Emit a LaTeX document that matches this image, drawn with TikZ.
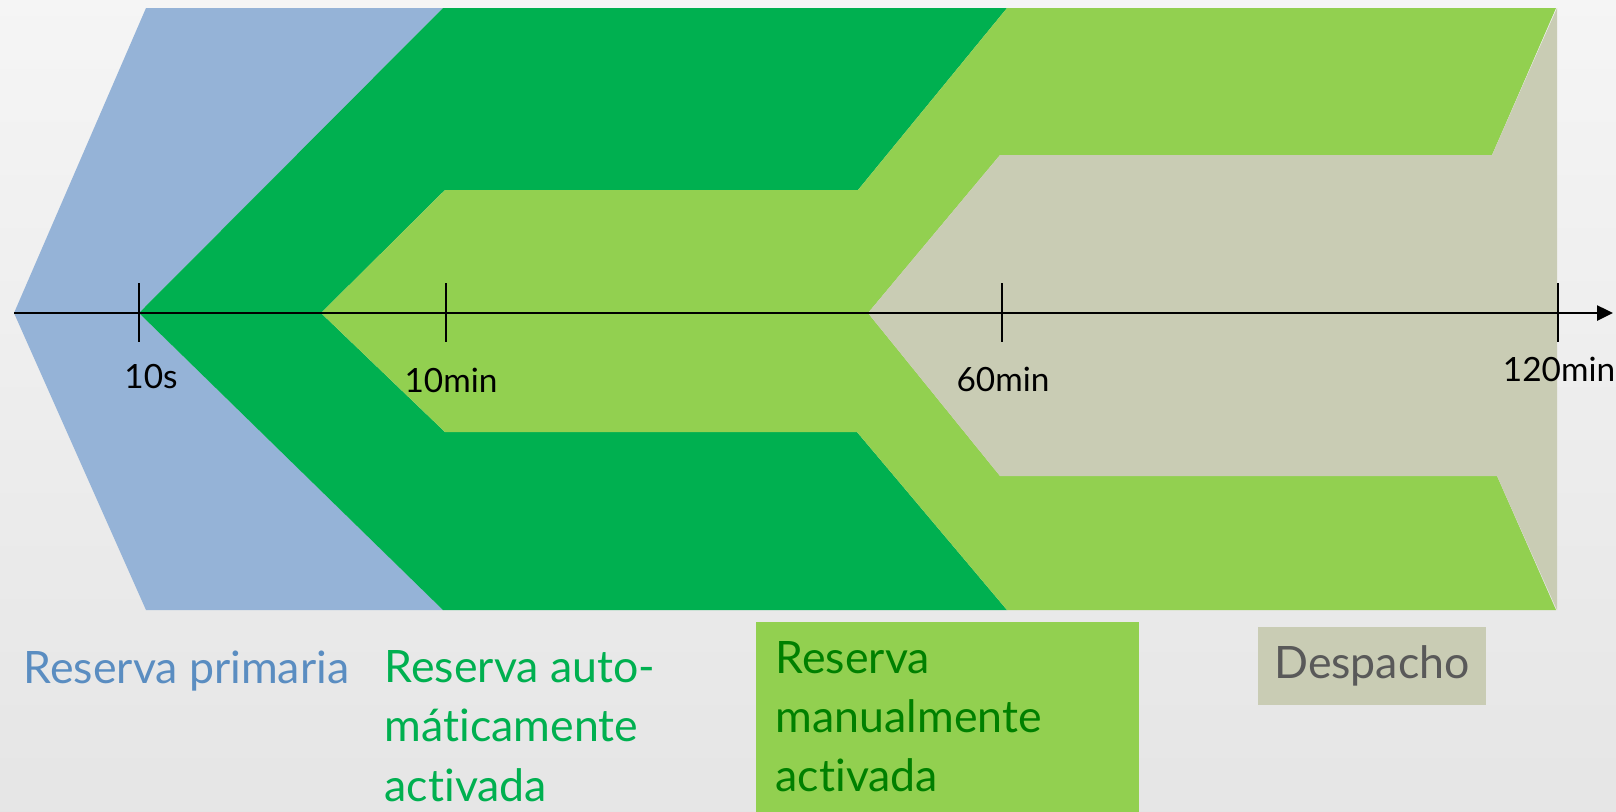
\documentclass[tikz,border=0pt]{standalone}
\usepackage{fontspec}
\setmainfont{Lato}[Ligatures=NoCommon]
\usetikzlibrary{arrows.meta}
\definecolor{primaria}{HTML}{95B3D7}
\definecolor{automatica}{HTML}{00B050}
\definecolor{manual}{HTML}{92D050}
\definecolor{despacho}{HTML}{C9CCB4}
\definecolor{textoprim}{HTML}{5A8DC1}
\definecolor{textoman}{HTML}{008000}
\definecolor{textodesp}{HTML}{595959}

\begin{document}
\begin{tikzpicture}[x=0.01cm,y=-0.01cm]
\tikzstyle{marca}=[line width=0.6pt]
\tikzstyle{etiq}=[font=\fontsize{9.5}{11}\selectfont, inner sep=0pt]
\tikzstyle{leyenda}=[font=\fontsize{12.7}{16.8}\selectfont, align=left, inner sep=0pt, anchor=base west]
\tikzstyle{caja}=[font=\fontsize{12.7}{16.8}\selectfont, align=left, inner ysep=0pt]
\useasboundingbox (0,0) rectangle (1616,811);
\shade[top color=black!4, bottom color=black!10] (0,0) rectangle (1616,811);
% bandas
\fill[primaria] (146,8) -- (443,8) -- (139,313) -- (443,610) -- (146,610) -- (14,313) -- cycle;
\fill[automatica] (443,8) -- (1007,8) -- (858,190) -- (445,190) -- (321,313) -- (445,432)
	-- (857,432) -- (1007,610) -- (443,610) -- (139,313) -- cycle;
\fill[manual] (445,190) -- (858,190) -- (1007,8) -- (1556,8) -- (1492,155) -- (1000,155)
	-- (868,313) -- (1000,476) -- (1497,476) -- (1556,610) -- (1007,610) -- (857,432)
	-- (445,432) -- (321,313) -- cycle;
\fill[despacho] (1000,155) -- (1492,155) -- (1557,8) -- (1557,610) -- (1497,476)
	-- (1000,476) -- (868,313) -- cycle;
% eje
\coordinate (inicio) at (14,313);
\coordinate (fin) at (1613,313);
\draw[line width=0.7pt, -{Triangle[length=0.16cm, width=0.15cm]}] (inicio) -- (fin);
\foreach \x in {139,446,1002,1558}
	\draw[marca] (\x,283) -- (\x,342);
\node[etiq] (t10s) at (151,377) {10s};
\node[etiq] (t10min) at (451,380) {10min};
\node[etiq] (t60min) at (1003,379) {60min};
\node[etiq] (t120min) at (1559,369) {120min};
% leyenda
\node[leyenda, text=textoprim] (primaria) at (23,683) {Reserva primaria};
\node[leyenda, text=automatica] (automatica) at (384,801) {Reserva auto-\\máticamente\\activada};
\node[caja, fill=manual, text=textoman, minimum width=3.83cm, minimum height=1.90cm,
	text width=3.43cm, inner xsep=0.2cm, anchor=north west] (manual) at (755,621)
	{Reserva\\manualmente\\activada};
\node[caja, fill=despacho, text=textodesp, minimum width=2.28cm, minimum height=0.78cm]
	(despacho) at (1372,666) {Despacho};
\end{tikzpicture}
\end{document}
